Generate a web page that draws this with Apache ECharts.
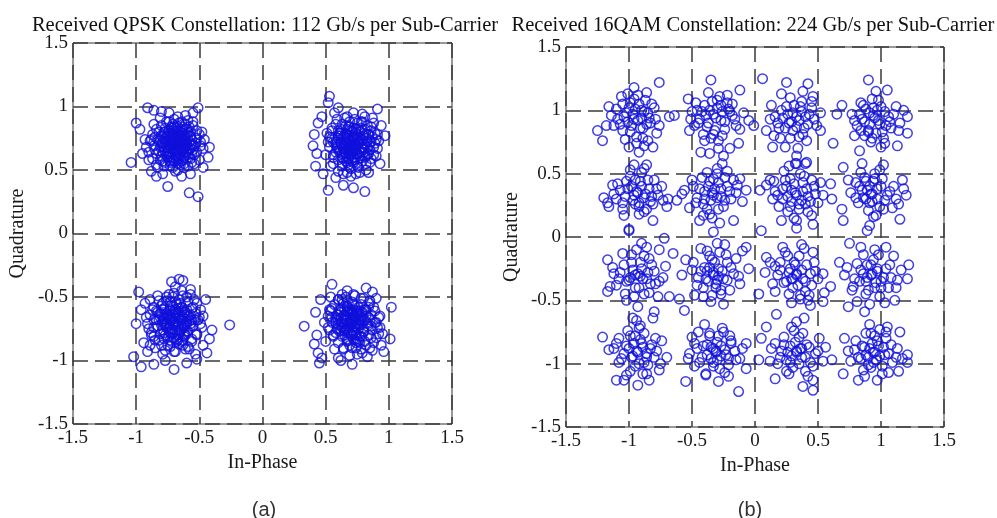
<!DOCTYPE html>
<html>
<head>
<meta charset="utf-8">
<script src="https://cdn.jsdelivr.net/npm/echarts@6/dist/echarts.min.js"></script>
<style>
  html, body { margin: 0; padding: 0; background: #fff; }
  #chart { width: 997px; height: 518px; }
</style>
</head>
<body>
<div id="chart"></div>
<script>
// --- tick values shared by both panels ---
const tickMin = -1.5
const tickMax = 1.5
const tickStep = 0.5

// --- (a) QPSK received symbols, one set of arrays per quadrant (spread, core, inner core) ---
const qpskTopLeft = [
  [-1.04, 0.56], [-1.00, 0.87], [-0.97, 0.82], [-0.91, 0.99], [-0.86, 0.97], [-0.51, 0.99], [-0.55, 0.95], [-0.58, 0.32],
  [-0.51, 0.29], [-0.75, 0.37], [-0.84, 0.45], [-0.42, 0.68], [-0.43, 0.60], [-0.95, 0.63], [-0.93, 0.74], [-0.47, 0.52],
  [-0.80, 0.96], [-0.68, 0.71], [-0.72, 0.76], [-0.63, 0.66], [-0.75, 0.64], [-0.60, 0.78], [-0.70, 0.84], [-0.79, 0.72],
  [-0.57, 0.70], [-0.66, 0.59], [-0.82, 0.80], [-0.54, 0.62], [-0.64, 0.88], [-0.77, 0.56], [-0.73, 0.69], [-0.61, 0.73],
  [-0.69, 0.63], [-0.85, 0.66], [-0.58, 0.84], [-0.74, 0.79], [-0.66, 0.77], [-0.71, 0.58], [-0.62, 0.52], [-0.80, 0.61],
  [-0.88, 0.74], [-0.52, 0.75], [-0.67, 0.92], [-0.76, 0.88], [-0.56, 0.56], [-0.83, 0.52], [-0.65, 0.67], [-0.70, 0.74],
  [-0.78, 0.68], [-0.59, 0.64], [-0.73, 0.53], [-0.63, 0.81], [-0.86, 0.86], [-0.49, 0.69], [-0.69, 0.49], [-0.90, 0.58],
  [-0.55, 0.88], [-0.81, 0.91], [-0.61, 0.93], [-0.74, 0.95], [-0.48, 0.80], [-0.88, 0.49], [-0.64, 0.45], [-0.79, 0.47],
  [-0.57, 0.47], [-0.92, 0.68], [-0.46, 0.74], [-0.67, 0.55], [-0.60, 0.69], [-0.77, 0.74], [-0.71, 0.81], [-0.65, 0.72],
  [-0.68, 0.66], [-0.74, 0.61], [-0.62, 0.60], [-0.72, 0.71], [-0.64, 0.76]
]
const qpskTopLeftCore = [
  [-0.74, 0.88], [-0.66, 0.87], [-0.59, 0.89], [-0.70, 0.90], [-0.80, 0.85], [-0.71, 0.86], [-0.63, 0.84], [-0.55, 0.85],
  [-0.77, 0.83], [-0.84, 0.82], [-0.74, 0.81], [-0.68, 0.83], [-0.60, 0.82], [-0.52, 0.81], [-0.65, 0.80], [-0.87, 0.78],
  [-0.80, 0.77], [-0.72, 0.79], [-0.66, 0.78], [-0.57, 0.77], [-0.50, 0.78], [-0.62, 0.76], [-0.76, 0.76], [-0.89, 0.73],
  [-0.83, 0.74], [-0.75, 0.73], [-0.69, 0.75], [-0.63, 0.73], [-0.56, 0.74], [-0.49, 0.72], [-0.60, 0.71], [-0.79, 0.71],
  [-0.86, 0.69], [-0.81, 0.68], [-0.74, 0.70], [-0.67, 0.69], [-0.62, 0.68], [-0.54, 0.69], [-0.47, 0.67], [-0.70, 0.67],
  [-0.58, 0.66], [-0.90, 0.64], [-0.84, 0.63], [-0.77, 0.65], [-0.71, 0.64], [-0.65, 0.63], [-0.59, 0.62], [-0.52, 0.64],
  [-0.68, 0.61], [-0.87, 0.59], [-0.81, 0.58], [-0.75, 0.60], [-0.70, 0.57], [-0.63, 0.58], [-0.57, 0.59], [-0.50, 0.58],
  [-0.73, 0.56], [-0.84, 0.54], [-0.78, 0.53], [-0.71, 0.52], [-0.65, 0.54], [-0.59, 0.53], [-0.54, 0.55], [-0.67, 0.50],
  [-0.69, 0.72], [-0.73, 0.74], [-0.64, 0.70], [-0.71, 0.77], [-0.66, 0.65], [-0.76, 0.68], [-0.61, 0.75], [-0.69, 0.80],
  [-0.74, 0.63], [-0.63, 0.67], [-0.78, 0.80], [-0.57, 0.80], [-0.82, 0.65], [-0.55, 0.66], [-0.67, 0.59], [-0.72, 0.84],
  [-0.61, 0.86], [-0.85, 0.76], [-0.53, 0.71], [-0.79, 0.57], [-0.62, 0.55]
]
const qpskTopLeftInner = [
  [-0.72, 0.83], [-0.67, 0.84], [-0.63, 0.82], [-0.77, 0.80], [-0.73, 0.79], [-0.68, 0.81], [-0.64, 0.79], [-0.59, 0.80],
  [-0.79, 0.76], [-0.75, 0.77], [-0.70, 0.76], [-0.66, 0.75], [-0.61, 0.77], [-0.57, 0.76], [-0.81, 0.73], [-0.77, 0.72],
  [-0.72, 0.73], [-0.67, 0.72], [-0.63, 0.71], [-0.58, 0.72], [-0.55, 0.70], [-0.80, 0.69], [-0.75, 0.68], [-0.71, 0.69],
  [-0.66, 0.68], [-0.61, 0.69], [-0.57, 0.67], [-0.79, 0.64], [-0.74, 0.65], [-0.69, 0.64], [-0.64, 0.65], [-0.60, 0.64],
  [-0.56, 0.63], [-0.76, 0.61], [-0.72, 0.60], [-0.67, 0.61], [-0.62, 0.61], [-0.58, 0.60], [-0.73, 0.57], [-0.68, 0.58],
  [-0.64, 0.57], [-0.70, 0.71], [-0.65, 0.74], [-0.74, 0.70], [-0.69, 0.66], [-0.62, 0.67]
]
const qpskTopRight = [
  [0.53, 1.08], [0.52, 1.03], [0.91, 0.98], [0.40, 0.69], [0.42, 0.53], [0.52, 0.34], [0.81, 0.33], [0.72, 0.36],
  [0.97, 0.77], [0.94, 0.85], [0.41, 0.78], [0.44, 0.87], [0.47, 0.92], [0.60, 0.99], [0.43, 0.63], [0.48, 0.47],
  [0.64, 0.38], [0.93, 0.55], [0.70, 0.70], [0.75, 0.76], [0.65, 0.64], [0.62, 0.77], [0.80, 0.66], [0.68, 0.84],
  [0.58, 0.70], [0.84, 0.78], [0.73, 0.58], [0.63, 0.55], [0.78, 0.88], [0.56, 0.60], [0.88, 0.68], [0.67, 0.92],
  [0.55, 0.83], [0.82, 0.55], [0.71, 0.63], [0.76, 0.71], [0.66, 0.73], [0.61, 0.66], [0.74, 0.82], [0.69, 0.52],
  [0.86, 0.84], [0.59, 0.90], [0.90, 0.61], [0.52, 0.72], [0.79, 0.94], [0.64, 0.47], [0.77, 0.48], [0.54, 0.53],
  [0.87, 0.91], [0.92, 0.73], [0.50, 0.62], [0.57, 0.95], [0.72, 0.95], [0.83, 0.62], [0.60, 0.81], [0.68, 0.60],
  [0.74, 0.66], [0.66, 0.79], [0.79, 0.74], [0.71, 0.76], [0.62, 0.71], [0.70, 0.45], [0.84, 0.48], [0.89, 0.79],
  [0.51, 0.79], [0.58, 0.44], [0.81, 0.82], [0.75, 0.53], [0.69, 0.67], [0.73, 0.73], [0.65, 0.68], [0.77, 0.61],
  [0.63, 0.86], [0.86, 0.72]
]
const qpskTopRightCore = [
  [0.65, 0.91], [0.73, 0.90], [0.81, 0.92], [0.69, 0.88], [0.58, 0.86], [0.66, 0.85], [0.75, 0.87], [0.83, 0.85],
  [0.88, 0.87], [0.55, 0.81], [0.62, 0.82], [0.70, 0.81], [0.78, 0.83], [0.86, 0.81], [0.74, 0.79], [0.53, 0.76],
  [0.60, 0.77], [0.67, 0.78], [0.72, 0.76], [0.80, 0.77], [0.87, 0.76], [0.91, 0.78], [0.64, 0.74], [0.56, 0.72],
  [0.62, 0.71], [0.69, 0.73], [0.77, 0.72], [0.83, 0.73], [0.89, 0.71], [0.74, 0.70], [0.53, 0.68], [0.59, 0.67],
  [0.66, 0.66], [0.72, 0.68], [0.79, 0.67], [0.85, 0.66], [0.91, 0.67], [0.63, 0.63], [0.56, 0.62], [0.69, 0.62],
  [0.75, 0.63], [0.82, 0.61], [0.88, 0.62], [0.60, 0.58], [0.66, 0.57], [0.72, 0.56], [0.79, 0.57], [0.85, 0.56],
  [0.56, 0.55], [0.63, 0.53], [0.70, 0.51], [0.76, 0.52], [0.82, 0.50], [0.67, 0.48], [0.74, 0.47], [0.60, 0.49],
  [0.71, 0.69], [0.68, 0.71], [0.75, 0.74], [0.64, 0.69], [0.78, 0.64], [0.70, 0.65], [0.66, 0.76], [0.81, 0.70],
  [0.73, 0.60], [0.61, 0.79], [0.77, 0.80], [0.69, 0.84], [0.84, 0.78], [0.58, 0.64], [0.86, 0.59], [0.64, 0.59],
  [0.79, 0.88], [0.55, 0.75], [0.90, 0.74], [0.68, 0.54]
]
const qpskTopRightInner = [
  [0.67, 0.82], [0.72, 0.83], [0.76, 0.82], [0.62, 0.79], [0.66, 0.78], [0.71, 0.80], [0.75, 0.78], [0.80, 0.79],
  [0.60, 0.75], [0.64, 0.76], [0.68, 0.75], [0.73, 0.76], [0.77, 0.74], [0.82, 0.75], [0.58, 0.72], [0.62, 0.71],
  [0.67, 0.72], [0.71, 0.71], [0.76, 0.72], [0.80, 0.71], [0.85, 0.72], [0.59, 0.68], [0.64, 0.67], [0.69, 0.68],
  [0.73, 0.67], [0.78, 0.68], [0.83, 0.68], [0.61, 0.64], [0.66, 0.63], [0.71, 0.64], [0.75, 0.63], [0.80, 0.64],
  [0.84, 0.63], [0.63, 0.60], [0.68, 0.59], [0.72, 0.60], [0.77, 0.59], [0.81, 0.60], [0.67, 0.56], [0.71, 0.57],
  [0.75, 0.56], [0.70, 0.70], [0.74, 0.69], [0.66, 0.70], [0.72, 0.74], [0.69, 0.65]
]
const qpskBottomLeft = [
  [-0.98, -0.46], [-0.26, -0.72], [-1.02, -0.97], [-0.96, -1.05], [-0.70, -1.07], [-0.52, -0.99], [-0.44, -0.94], [-0.40, -0.76],
  [-0.66, -0.36], [-0.72, -0.38], [-0.86, -1.03], [-0.63, -0.37], [-0.96, -0.60], [-1.00, -0.71], [-0.93, -0.55], [-0.45, -0.52],
  [-0.77, -1.00], [-0.60, -1.02], [-0.42, -0.83], [-0.70, -0.70], [-0.75, -0.64], [-0.65, -0.76], [-0.78, -0.78], [-0.62, -0.62],
  [-0.84, -0.68], [-0.57, -0.71], [-0.72, -0.85], [-0.68, -0.55], [-0.88, -0.80], [-0.55, -0.58], [-0.80, -0.57], [-0.63, -0.88],
  [-0.92, -0.66], [-0.52, -0.80], [-0.74, -0.48], [-0.60, -0.50], [-0.85, -0.90], [-0.69, -0.93], [-0.50, -0.66], [-0.90, -0.75],
  [-0.77, -0.72], [-0.66, -0.66], [-0.73, -0.60], [-0.61, -0.80], [-0.82, -0.84], [-0.58, -0.91], [-0.87, -0.60], [-0.64, -0.45],
  [-0.48, -0.74], [-0.79, -0.95], [-0.94, -0.86], [-0.56, -0.85], [-0.71, -0.78], [-0.76, -0.53], [-0.83, -0.49], [-0.67, -0.84],
  [-0.91, -0.93], [-0.54, -0.52], [-0.47, -0.88], [-0.81, -0.63], [-0.69, -0.62], [-0.62, -0.72], [-0.74, -0.75], [-0.78, -0.67],
  [-0.66, -0.59], [-0.72, -0.68], [-0.59, -0.65], [-0.86, -0.74], [-0.75, -0.88], [-0.53, -0.95], [-0.69, -0.42], [-0.89, -0.52],
  [-0.57, -0.44]
]
const qpskBottomLeftCore = [
  [-0.70, -0.47], [-0.63, -0.49], [-0.76, -0.50], [-0.57, -0.48], [-0.82, -0.53], [-0.73, -0.54], [-0.66, -0.52], [-0.59, -0.54],
  [-0.52, -0.55], [-0.86, -0.58], [-0.78, -0.59], [-0.71, -0.57], [-0.64, -0.58], [-0.56, -0.59], [-0.49, -0.60], [-0.89, -0.64],
  [-0.83, -0.62], [-0.76, -0.63], [-0.68, -0.64], [-0.61, -0.62], [-0.53, -0.63], [-0.47, -0.65], [-0.86, -0.68], [-0.79, -0.69],
  [-0.73, -0.67], [-0.65, -0.68], [-0.58, -0.69], [-0.51, -0.68], [-0.91, -0.71], [-0.83, -0.73], [-0.76, -0.74], [-0.69, -0.72],
  [-0.62, -0.74], [-0.55, -0.73], [-0.49, -0.71], [-0.88, -0.78], [-0.81, -0.79], [-0.73, -0.78], [-0.66, -0.79], [-0.59, -0.77],
  [-0.52, -0.79], [-0.85, -0.84], [-0.78, -0.83], [-0.70, -0.82], [-0.63, -0.84], [-0.56, -0.83], [-0.89, -0.88], [-0.80, -0.88],
  [-0.73, -0.89], [-0.66, -0.87], [-0.59, -0.89], [-0.70, -0.93], [-0.77, -0.92], [-0.70, -0.69], [-0.67, -0.73], [-0.74, -0.66],
  [-0.63, -0.66], [-0.72, -0.76], [-0.78, -0.71], [-0.60, -0.71], [-0.69, -0.60], [-0.75, -0.81], [-0.65, -0.55], [-0.81, -0.66],
  [-0.57, -0.64], [-0.68, -0.85], [-0.84, -0.61], [-0.62, -0.79], [-0.54, -0.68], [-0.79, -0.55], [-0.71, -0.50], [-0.86, -0.81],
  [-0.61, -0.91]
]
const qpskBottomLeftInner = [
  [-0.73, -0.57], [-0.68, -0.56], [-0.64, -0.58], [-0.78, -0.60], [-0.73, -0.61], [-0.69, -0.60], [-0.64, -0.61], [-0.60, -0.60],
  [-0.80, -0.64], [-0.76, -0.65], [-0.71, -0.64], [-0.67, -0.65], [-0.62, -0.64], [-0.58, -0.65], [-0.82, -0.68], [-0.78, -0.67],
  [-0.73, -0.68], [-0.69, -0.67], [-0.64, -0.68], [-0.60, -0.69], [-0.56, -0.68], [-0.80, -0.72], [-0.76, -0.71], [-0.71, -0.72],
  [-0.66, -0.71], [-0.62, -0.72], [-0.57, -0.73], [-0.79, -0.76], [-0.74, -0.75], [-0.69, -0.76], [-0.64, -0.75], [-0.60, -0.77],
  [-0.77, -0.80], [-0.72, -0.79], [-0.67, -0.80], [-0.62, -0.81], [-0.73, -0.84], [-0.68, -0.83], [-0.64, -0.85], [-0.70, -0.70],
  [-0.67, -0.62], [-0.74, -0.73], [-0.65, -0.77], [-0.72, -0.66]
]
const qpskBottomRight = [
  [0.33, -0.73], [0.55, -0.40], [1.02, -0.58], [1.01, -0.83], [0.71, -1.03], [0.45, -1.02], [0.82, -0.43], [0.41, -0.87],
  [0.44, -0.94], [0.42, -0.62], [0.46, -0.52], [0.87, -0.46], [0.94, -0.88], [0.47, -0.98], [0.62, -1.00], [0.90, -0.51],
  [0.43, -0.80], [0.70, -0.69], [0.75, -0.63], [0.65, -0.75], [0.62, -0.62], [0.80, -0.77], [0.68, -0.55], [0.58, -0.70],
  [0.84, -0.66], [0.73, -0.84], [0.56, -0.81], [0.88, -0.58], [0.64, -0.90], [0.78, -0.51], [0.53, -0.60], [0.91, -0.74],
  [0.60, -0.52], [0.82, -0.88], [0.71, -0.62], [0.76, -0.72], [0.66, -0.68], [0.61, -0.77], [0.74, -0.78], [0.86, -0.82],
  [0.52, -0.74], [0.69, -0.96], [0.57, -0.91], [0.93, -0.65], [0.79, -0.94], [0.63, -0.48], [0.72, -0.48], [0.50, -0.85],
  [0.85, -0.53], [0.95, -0.79], [0.67, -0.83], [0.59, -0.64], [0.81, -0.60], [0.73, -0.57], [0.55, -0.66], [0.77, -0.86],
  [0.89, -0.70], [0.49, -0.70], [0.60, -0.98], [0.83, -0.97], [0.65, -0.60], [0.72, -0.73], [0.68, -0.78], [0.78, -0.68],
  [0.63, -0.70], [0.74, -0.90], [0.54, -0.50], [0.96, -0.93], [0.67, -0.45], [0.87, -0.92]
]
const qpskBottomRightCore = [
  [0.66, -0.50], [0.73, -0.49], [0.80, -0.51], [0.60, -0.52], [0.57, -0.56], [0.64, -0.55], [0.71, -0.54], [0.78, -0.56],
  [0.85, -0.55], [0.54, -0.61], [0.61, -0.60], [0.68, -0.59], [0.75, -0.61], [0.82, -0.60], [0.89, -0.61], [0.52, -0.65],
  [0.58, -0.66], [0.65, -0.64], [0.72, -0.65], [0.79, -0.66], [0.86, -0.64], [0.92, -0.66], [0.55, -0.70], [0.62, -0.71],
  [0.69, -0.70], [0.76, -0.69], [0.83, -0.71], [0.90, -0.70], [0.53, -0.76], [0.59, -0.75], [0.66, -0.76], [0.73, -0.74],
  [0.80, -0.75], [0.87, -0.76], [0.93, -0.74], [0.56, -0.80], [0.63, -0.81], [0.70, -0.80], [0.77, -0.81], [0.84, -0.80],
  [0.90, -0.82], [0.60, -0.86], [0.67, -0.85], [0.74, -0.86], [0.81, -0.85], [0.88, -0.86], [0.64, -0.91], [0.71, -0.90],
  [0.78, -0.91], [0.85, -0.90], [0.75, -0.95], [0.71, -0.68], [0.68, -0.73], [0.74, -0.66], [0.65, -0.68], [0.77, -0.72],
  [0.70, -0.62], [0.63, -0.74], [0.81, -0.68], [0.72, -0.78], [0.67, -0.58], [0.79, -0.62], [0.60, -0.68], [0.75, -0.83],
  [0.86, -0.73], [0.58, -0.78], [0.84, -0.58], [0.69, -0.88], [0.92, -0.79], [0.55, -0.59], [0.63, -0.52]
]
const qpskBottomRightInner = [
  [0.67, -0.57], [0.72, -0.56], [0.76, -0.58], [0.62, -0.60], [0.67, -0.61], [0.71, -0.60], [0.76, -0.61], [0.80, -0.60],
  [0.60, -0.64], [0.64, -0.65], [0.69, -0.64], [0.73, -0.65], [0.78, -0.64], [0.82, -0.65], [0.58, -0.68], [0.62, -0.67],
  [0.67, -0.68], [0.71, -0.67], [0.76, -0.68], [0.80, -0.69], [0.85, -0.68], [0.60, -0.72], [0.64, -0.71], [0.69, -0.72],
  [0.74, -0.71], [0.78, -0.72], [0.83, -0.73], [0.62, -0.76], [0.67, -0.75], [0.71, -0.76], [0.76, -0.75], [0.80, -0.77],
  [0.65, -0.80], [0.70, -0.79], [0.74, -0.80], [0.78, -0.81], [0.68, -0.84], [0.72, -0.83], [0.76, -0.85], [0.71, -0.70],
  [0.68, -0.62], [0.74, -0.73], [0.65, -0.77], [0.73, -0.66]
]

// --- (b) 16QAM received symbols, one array per row of the grid (top to bottom) ---
const qamRow1 = [
  [-1.25, 0.84], [-1.21, 0.76], [-1.06, 1.11], [-0.96, 1.18], [-0.76, 1.22], [-0.86, 1.14], [-0.68, 0.95], [-0.64, 0.96],
  [-1.00, 0.71], [-0.81, 0.71], [-0.78, 0.82], [-1.16, 1.03], [-1.09, 0.93], [-1.02, 0.98], [-0.95, 1.01], [-0.90, 0.94],
  [-0.98, 0.88], [-0.92, 1.05], [-0.85, 0.98], [-1.05, 0.84], [-0.89, 0.86], [-0.99, 1.06], [-0.83, 0.90], [-1.12, 0.88],
  [-0.94, 0.79], [-0.87, 1.08], [-1.03, 0.77], [-0.80, 1.02], [-0.92, 0.67], [-0.85, 0.76], [-1.14, 0.96], [-0.96, 0.93],
  [-0.76, 0.88], [-0.90, 1.00], [-1.01, 0.91], [-0.88, 0.72],
  [-0.35, 1.24], [-0.12, 1.16], [-0.53, 1.09], [-0.05, 0.92], [-0.01, 0.88], [-0.43, 0.67], [-0.36, 0.66], [-0.20, 0.70],
  [-0.13, 0.74], [-0.52, 0.84], [-0.50, 0.99], [-0.28, 1.11], [-0.22, 1.06], [-0.40, 1.04], [-0.33, 0.97], [-0.27, 0.92],
  [-0.37, 0.90], [-0.30, 1.02], [-0.44, 0.93], [-0.24, 0.85], [-0.32, 0.84], [-0.18, 0.96], [-0.41, 0.81], [-0.26, 0.99],
  [-0.35, 0.78], [-0.46, 1.00], [-0.15, 0.88], [-0.29, 0.76], [-0.39, 0.96], [-0.21, 1.01], [-0.48, 0.88], [-0.34, 1.07],
  [-0.09, 0.98], [-0.25, 0.64],
  [0.06, 1.25], [0.25, 1.22], [0.42, 1.21], [0.21, 1.13], [0.13, 1.04], [0.46, 1.11], [0.52, 0.84], [0.62, 0.74],
  [0.33, 0.64], [0.40, 0.58], [0.32, 0.58], [0.14, 0.71], [0.09, 0.84], [0.30, 0.98], [0.36, 1.03], [0.27, 0.90],
  [0.40, 0.95], [0.33, 0.87], [0.22, 0.94], [0.45, 1.02], [0.19, 0.86], [0.38, 0.81], [0.28, 0.78], [0.42, 0.89],
  [0.25, 1.03], [0.35, 0.92], [0.16, 0.95], [0.47, 0.93], [0.24, 0.71], [0.30, 0.84], [0.37, 1.07], [0.20, 0.78],
  [0.90, 1.24], [1.05, 1.16], [0.69, 1.04], [0.65, 0.97], [1.21, 0.95], [1.21, 0.82], [1.13, 0.72], [0.83, 0.68],
  [1.00, 0.71], [0.94, 0.96], [0.88, 1.01], [1.00, 1.03], [0.91, 0.89], [0.98, 0.92], [0.85, 0.93], [1.06, 0.95],
  [0.93, 1.09], [0.81, 0.88], [1.08, 0.86], [0.96, 0.82], [0.87, 0.80], [1.02, 0.78], [0.77, 0.97], [0.92, 0.75],
  [1.12, 1.03], [0.97, 1.00], [0.84, 1.06], [1.15, 0.90], [0.90, 0.84], [0.79, 0.80], [1.04, 0.88]
]
const qamRow1Core = [
  [-0.97, 0.97], [-0.93, 0.92], [-1.00, 1.02], [-0.88, 0.99], [-1.04, 0.95], [-0.91, 0.86], [-0.96, 1.09], [-0.84, 0.94],
  [-1.07, 0.89], [-0.99, 0.83], [-0.93, 1.12], [-0.82, 1.05], [-1.10, 1.01], [-0.89, 0.78], [-1.01, 1.13], [-0.79, 0.93],
  [-1.18, 0.88], [-0.94, 0.74], [-0.86, 0.89], [-1.05, 1.05],
  [-0.31, 0.94], [-0.36, 1.00], [-0.27, 1.04], [-0.38, 0.87], [-0.24, 0.91], [-0.42, 0.99], [-0.30, 1.08], [-0.33, 0.81],
  [-0.20, 0.99], [-0.45, 0.90], [-0.26, 0.80], [-0.37, 1.14], [-0.16, 0.93], [-0.47, 1.06], [-0.22, 1.12], [-0.40, 0.76],
  [-0.12, 0.85], [-0.51, 0.93], [-0.29, 0.70], [-0.18, 1.05],
  [0.33, 0.95], [0.29, 0.91], [0.37, 0.99], [0.26, 0.97], [0.39, 0.86], [0.31, 1.04], [0.43, 0.97], [0.24, 0.86],
  [0.35, 0.79], [0.18, 0.90], [0.45, 1.07], [0.28, 1.10], [0.41, 0.76], [0.15, 0.80], [0.49, 0.88], [0.21, 1.00],
  [0.38, 1.15], [0.12, 0.93], [0.34, 0.70], [0.52, 0.98],
  [0.95, 0.94], [0.91, 0.98], [0.99, 0.89], [0.87, 0.91], [1.03, 0.99], [0.94, 1.02], [0.90, 0.83], [1.07, 0.91],
  [0.83, 0.97], [0.98, 1.08], [1.01, 0.83], [0.86, 1.04], [1.10, 0.97], [0.93, 0.78], [0.79, 0.92], [1.14, 0.84],
  [0.96, 1.15], [0.84, 0.84], [1.18, 1.00], [1.03, 0.74]
]
const qamRow2 = [
  [-1.00, 0.05], [-0.96, 0.57], [-0.86, 0.57], [-1.16, 0.24], [-0.70, 0.24], [-0.69, 0.30], [-0.81, 0.13], [-1.13, 0.41],
  [-1.17, 0.27], [-0.93, 0.35], [-0.98, 0.40], [-0.88, 0.31], [-1.03, 0.32], [-0.91, 0.44], [-0.84, 0.38], [-0.95, 0.26],
  [-1.07, 0.37], [-0.80, 0.45], [-0.99, 0.48], [-0.86, 0.22], [-1.05, 0.22], [-0.92, 0.18], [-0.77, 0.33], [-1.10, 0.30],
  [-0.90, 0.51], [-0.96, 0.33], [-1.02, 0.44], [-0.74, 0.40], [-0.83, 0.28], [-0.92, 0.27],
  [-0.62, 0.29], [-0.56, 0.37], [-0.12, 0.46], [-0.17, 0.45], [-0.07, 0.37], [-0.33, 0.04], [-0.28, 0.11], [-0.17, 0.13],
  [-0.44, 0.13], [-0.36, 0.44], [-0.32, 0.38], [-0.40, 0.36], [-0.27, 0.32], [-0.35, 0.29], [-0.22, 0.40], [-0.42, 0.47],
  [-0.30, 0.50], [-0.46, 0.31], [-0.25, 0.24], [-0.38, 0.22], [-0.19, 0.30], [-0.49, 0.40], [-0.33, 0.33], [-0.29, 0.43],
  [-0.41, 0.26], [-0.24, 0.47], [-0.52, 0.23], [-0.15, 0.35], [-0.36, 0.18], [-0.30, 0.54],
  [0.04, 0.37], [0.05, 0.05], [0.33, 0.58], [0.41, 0.59], [0.60, 0.42], [0.54, 0.33], [0.12, 0.45], [0.33, 0.07],
  [0.21, 0.13], [0.45, 0.17], [0.16, 0.36], [0.25, 0.40], [0.32, 0.35], [0.38, 0.43], [0.29, 0.28], [0.42, 0.32],
  [0.22, 0.30], [0.35, 0.22], [0.47, 0.40], [0.28, 0.46], [0.19, 0.24], [0.40, 0.26], [0.26, 0.20], [0.50, 0.27],
  [0.14, 0.30], [0.36, 0.50], [0.45, 0.45], [0.31, 0.15], [0.23, 0.52], [0.09, 0.41], [0.38, 0.36],
  [0.70, 0.55], [0.61, 0.30], [0.69, 0.22], [0.70, 0.13], [0.89, 0.05], [1.15, 0.14], [1.18, 0.38], [0.85, 0.58],
  [1.02, 0.57], [1.17, 0.45], [0.92, 0.34], [0.97, 0.38], [0.88, 0.30], [1.03, 0.29], [0.94, 0.44], [0.85, 0.37],
  [0.99, 0.24], [0.90, 0.21], [1.07, 0.36], [0.80, 0.43], [0.95, 0.50], [1.09, 0.23], [0.82, 0.27], [0.93, 0.28],
  [1.01, 0.46], [0.76, 0.35], [0.87, 0.47], [0.96, 0.17], [1.12, 0.30], [0.91, 0.40]
]
const qamRow2Core = [
  [-0.94, 0.36], [-0.90, 0.40], [-0.97, 0.29], [-0.87, 0.34], [-1.01, 0.38], [-0.92, 0.24], [-0.85, 0.45], [-1.05, 0.27],
  [-0.99, 0.53], [-0.82, 0.32], [-1.09, 0.42], [-0.88, 0.20], [-0.78, 0.38], [-1.12, 0.34], [-0.95, 0.45], [-0.81, 0.26],
  [-1.04, 0.17], [-0.88, 0.54], [-0.73, 0.29], [-1.20, 0.31],
  [-0.34, 0.35], [-0.30, 0.31], [-0.37, 0.40], [-0.27, 0.38], [-0.40, 0.30], [-0.33, 0.46], [-0.24, 0.29], [-0.44, 0.38],
  [-0.29, 0.22], [-0.38, 0.51], [-0.20, 0.36], [-0.47, 0.27], [-0.34, 0.15], [-0.22, 0.52], [-0.50, 0.45], [-0.14, 0.41],
  [-0.41, 0.17], [-0.26, 0.58], [-0.58, 0.34], [-0.10, 0.28],
  [0.33, 0.33], [0.29, 0.37], [0.37, 0.29], [0.26, 0.32], [0.41, 0.38], [0.31, 0.42], [0.35, 0.26], [0.22, 0.38],
  [0.44, 0.28], [0.28, 0.24], [0.39, 0.48], [0.18, 0.33], [0.48, 0.34], [0.24, 0.45], [0.42, 0.20], [0.33, 0.13],
  [0.15, 0.44], [0.52, 0.43], [0.27, 0.56], [0.46, 0.10],
  [0.93, 0.34], [0.89, 0.37], [0.97, 0.30], [0.86, 0.31], [1.00, 0.40], [0.91, 0.27], [0.95, 0.46], [0.83, 0.40],
  [1.05, 0.33], [0.88, 0.44], [1.02, 0.22], [0.80, 0.31], [1.10, 0.40], [0.94, 0.16], [0.84, 0.51], [1.14, 0.26],
  [0.99, 0.53], [0.74, 0.45], [0.91, 0.09], [1.20, 0.33]
]
const qamRow3 = [
  [-1.17, -0.18], [-1.17, -0.43], [-1.00, 0.06], [-0.72, -0.01], [-0.65, -0.13], [-0.68, -0.47], [-0.60, -0.49], [-0.56, -0.58],
  [-0.93, -0.55], [-0.77, -0.47], [-0.73, -0.32], [-0.95, -0.30], [-0.90, -0.25], [-1.02, -0.35], [-0.86, -0.33], [-0.98, -0.20],
  [-1.07, -0.28], [-0.92, -0.40], [-0.82, -0.22], [-1.05, -0.13], [-0.88, -0.15], [-1.10, -0.38], [-0.96, -0.47], [-0.79, -0.37],
  [-0.94, -0.10], [-1.13, -0.24], [-0.84, -0.44], [-0.99, -0.32], [-0.76, -0.10], [-0.91, -0.31], [-1.03, -0.45], [-0.86, -0.08],
  [-0.55, -0.18], [-0.07, -0.08], [-0.10, -0.11], [-0.05, -0.25], [-0.25, -0.53], [-0.48, -0.46], [-0.43, -0.09], [-0.12, -0.37],
  [-0.33, -0.30], [-0.29, -0.25], [-0.37, -0.35], [-0.25, -0.33], [-0.40, -0.24], [-0.31, -0.40], [-0.22, -0.20], [-0.36, -0.15],
  [-0.20, -0.42], [-0.45, -0.32], [-0.28, -0.12], [-0.34, -0.46], [-0.17, -0.29], [-0.41, -0.40], [-0.24, -0.06], [-0.38, -0.27],
  [-0.30, -0.34], [-0.15, -0.17], [-0.50, -0.26], [-0.27, -0.45], [-0.32, -0.20],
  [0.09, -0.16], [0.08, -0.28], [0.22, -0.08], [0.46, -0.12], [0.60, -0.39], [0.54, -0.51], [0.44, -0.54], [0.36, -0.49],
  [0.54, -0.29], [0.03, -0.45], [0.33, -0.30], [0.28, -0.25], [0.38, -0.33], [0.25, -0.35], [0.41, -0.22], [0.30, -0.40],
  [0.20, -0.20], [0.35, -0.15], [0.45, -0.38], [0.18, -0.30], [0.32, -0.22], [0.27, -0.45], [0.40, -0.43], [0.14, -0.37],
  [0.48, -0.27], [0.24, -0.12], [0.37, -0.06], [0.43, -0.46], [0.29, -0.33], [0.16, -0.23],
  [0.67, -0.20], [0.75, -0.05], [1.22, -0.22], [1.21, -0.33], [1.11, -0.50], [0.87, -0.59], [0.74, -0.55], [0.81, -0.51],
  [0.92, -0.30], [0.97, -0.25], [0.88, -0.35], [1.02, -0.32], [0.94, -0.18], [0.84, -0.26], [1.07, -0.22], [0.90, -0.42],
  [1.00, -0.40], [0.79, -0.33], [0.95, -0.10], [1.10, -0.15], [0.86, -0.14], [1.04, -0.08], [0.96, -0.36], [0.77, -0.42],
  [1.13, -0.34], [0.89, -0.22], [0.99, -0.47], [0.71, -0.30], [1.06, -0.40]
]
const qamRow3Core = [
  [-0.93, -0.29], [-0.89, -0.33], [-0.97, -0.26], [-0.85, -0.28], [-1.00, -0.34], [-0.91, -0.20], [-0.83, -0.37], [-1.04, -0.22],
  [-0.95, -0.40], [-0.80, -0.27], [-1.08, -0.33], [-0.88, -0.45], [-0.98, -0.14], [-0.76, -0.35], [-1.12, -0.29], [-0.84, -0.17],
  [-1.02, -0.50], [-0.71, -0.23], [-1.15, -0.39], [-0.90, -0.05],
  [-0.33, -0.28], [-0.29, -0.31], [-0.36, -0.24], [-0.26, -0.27], [-0.39, -0.33], [-0.31, -0.37], [-0.34, -0.18], [-0.22, -0.34],
  [-0.43, -0.27], [-0.27, -0.42], [-0.38, -0.11], [-0.19, -0.24], [-0.46, -0.38], [-0.35, -0.51], [-0.23, -0.14], [-0.49, -0.20],
  [-0.13, -0.31], [-0.41, -0.47], [-0.30, -0.05], [-0.58, -0.30],
  [0.33, -0.29], [0.30, -0.33], [0.37, -0.26], [0.27, -0.28], [0.40, -0.35], [0.34, -0.38], [0.31, -0.20], [0.23, -0.36],
  [0.44, -0.29], [0.36, -0.46], [0.26, -0.15], [0.47, -0.20], [0.20, -0.26], [0.42, -0.50], [0.29, -0.52], [0.50, -0.33],
  [0.16, -0.43], [0.39, -0.09], [0.12, -0.20], [0.55, -0.44],
  [0.93, -0.29], [0.89, -0.32], [0.97, -0.27], [0.86, -0.29], [1.00, -0.35], [0.92, -0.22], [0.95, -0.40], [0.83, -0.35],
  [1.04, -0.25], [0.88, -0.45], [1.08, -0.32], [0.81, -0.21], [0.98, -0.14], [0.78, -0.39], [1.12, -0.40], [0.91, -0.53],
  [1.16, -0.26], [0.84, -0.08], [1.03, -0.52], [0.73, -0.24]
]
const qamRow4 = [
  [-1.21, -0.79], [-1.16, -0.89], [-1.10, -1.13], [-0.93, -1.17], [-0.81, -0.64], [-0.80, -0.59], [-0.70, -0.95], [-0.76, -1.05],
  [-0.84, -1.13], [-1.04, -1.13], [-0.97, -0.64], [-0.94, -0.90], [-0.90, -0.84], [-0.98, -0.95], [-0.86, -0.92], [-1.02, -0.86],
  [-0.92, -1.00], [-0.88, -0.76], [-1.06, -0.96], [-0.95, -0.78], [-0.82, -0.85], [-1.08, -0.80], [-0.99, -1.06], [-0.78, -0.90],
  [-0.91, -0.70], [-1.12, -0.88], [-0.85, -1.01], [-0.96, -0.84], [-1.01, -0.74], [-0.74, -0.82], [-0.89, -1.08],
  [-0.55, -1.14], [-0.50, -0.79], [-0.45, -0.75], [-0.13, -1.22], [-0.07, -1.04], [-0.07, -0.84], [-0.29, -1.14], [-0.39, -1.08],
  [-0.31, -0.91], [-0.27, -0.86], [-0.35, -0.96], [-0.23, -0.93], [-0.38, -0.85], [-0.29, -0.78], [-0.19, -0.84], [-0.42, -0.95],
  [-0.33, -1.02], [-0.21, -1.01], [-0.26, -0.72], [-0.46, -0.88], [-0.16, -0.90], [-0.36, -0.76], [-0.30, -0.97], [-0.12, -0.96],
  [-0.48, -1.02], [-0.24, -1.07], [-0.40, -0.69], [-0.33, -0.88], [-0.20, -0.78], [-0.52, -0.92],
  [0.03, -0.97], [0.17, -0.61], [0.09, -0.71], [0.16, -1.12], [0.38, -1.18], [0.46, -1.21], [0.46, -1.13], [0.56, -0.87],
  [0.61, -0.97], [0.39, -0.64], [0.33, -0.67], [0.05, -0.80], [0.33, -0.91], [0.28, -0.86], [0.37, -0.95], [0.25, -0.97],
  [0.41, -0.85], [0.30, -1.03], [0.21, -0.90], [0.44, -0.99], [0.35, -0.79], [0.23, -0.79], [0.48, -0.92], [0.27, -1.08],
  [0.18, -1.00], [0.40, -1.06], [0.31, -0.74], [0.51, -0.80], [0.36, -0.88], [0.13, -0.88],
  [0.71, -0.80], [0.70, -1.08], [0.82, -1.13], [1.15, -0.75], [1.21, -0.99], [1.21, -0.93], [1.05, -0.71], [0.97, -1.13],
  [0.94, -0.91], [0.98, -0.86], [0.90, -0.95], [1.03, -0.93], [0.87, -0.87], [0.95, -0.78], [1.08, -0.85], [0.92, -1.03],
  [1.01, -1.02], [0.84, -0.96], [0.99, -0.73], [1.12, -0.95], [0.88, -0.76], [0.79, -0.89], [1.06, -1.07], [0.93, -0.84],
  [1.14, -1.06], [0.86, -1.05], [0.96, -0.97], [0.76, -0.98], [1.04, -0.80], [0.91, -0.69]
]
const qamRow4Core = [
  [-0.93, -0.91], [-0.89, -0.87], [-0.97, -0.94], [-0.86, -0.95], [-1.00, -0.88], [-0.91, -0.81], [-0.95, -1.02], [-0.83, -0.88],
  [-1.04, -0.92], [-0.88, -0.99], [-0.99, -0.78], [-0.80, -0.95], [-1.08, -0.99], [-0.92, -0.72], [-0.79, -0.80], [-1.10, -0.84],
  [-0.86, -1.08], [-1.02, -1.09], [-0.75, -1.00], [-0.94, -0.66],
  [-0.31, -0.90], [-0.27, -0.94], [-0.35, -0.87], [-0.24, -0.89], [-0.38, -0.93], [-0.30, -0.83], [-0.33, -0.99], [-0.21, -0.96],
  [-0.41, -0.86], [-0.28, -1.04], [-0.19, -0.82], [-0.44, -0.99], [-0.36, -0.78], [-0.15, -0.97], [-0.48, -0.84], [-0.25, -0.75],
  [-0.39, -1.09], [-0.10, -0.88], [-0.53, -0.96], [-0.21, -1.10],
  [0.33, -0.90], [0.29, -0.94], [0.37, -0.88], [0.26, -0.91], [0.40, -0.95], [0.32, -0.83], [0.35, -1.00], [0.23, -0.85],
  [0.43, -0.87], [0.28, -0.99], [0.46, -1.02], [0.20, -0.95], [0.38, -0.76], [0.25, -1.06], [0.50, -0.90], [0.16, -0.84],
  [0.42, -1.10], [0.29, -0.71], [0.54, -0.98], [0.12, -0.98],
  [0.95, -0.91], [0.91, -0.88], [0.99, -0.94], [0.88, -0.93], [1.02, -0.87], [0.94, -0.99], [0.97, -0.82], [0.85, -0.86],
  [1.06, -0.92], [0.90, -1.01], [1.09, -0.99], [0.82, -0.95], [1.01, -1.08], [0.92, -0.76], [1.13, -0.88], [0.80, -0.82],
  [0.87, -1.10], [1.17, -0.96], [1.04, -0.75], [0.74, -0.90]
]

const qpskPoints = qpskTopLeft.concat(qpskTopLeftCore, qpskTopLeftInner, qpskTopRight, qpskTopRightCore, qpskTopRightInner,
  qpskBottomLeft, qpskBottomLeftCore, qpskBottomLeftInner, qpskBottomRight, qpskBottomRightCore, qpskBottomRightInner)
const qamPoints = qamRow1.concat(qamRow1Core, qamRow2, qamRow2Core, qamRow3, qamRow3Core, qamRow4, qamRow4Core)

const serif = 'Liberation Serif, Times New Roman, serif'
const markerBlue = '#1010dc'

const chart = echarts.init(document.getElementById('chart'), null, {renderer: 'canvas'})

// 两个面板的坐标轴只差 gridIndex 和名称距离
const makeAxis = (gridIndex, name, isX, nameGap) => ({
  gridIndex: gridIndex,
  type: 'value',
  min: tickMin,
  max: tickMax,
  interval: tickStep,
  name: name,
  nameLocation: 'middle',
  nameGap: nameGap,
  nameRotate: isX ? 0 : 90,
  nameTextStyle: {fontFamily: serif, fontSize: 20, color: '#1a1a1a'},
  axisLine: {show: false, onZero: false},
  axisTick: {show: false},
  axisLabel: {fontFamily: serif, fontSize: 19, color: '#1a1a1a', margin: 5},
  splitLine: {show: true, lineStyle: {color: '#3a3a3a', width: 1.5, type: [15, 7]}}
})

const gridStyle = {show: true, borderColor: '#333', borderWidth: 1, backgroundColor: '#fff'}
const markerStyle = {color: 'rgba(0,0,0,0)', borderColor: markerBlue, borderWidth: 1.5}

const option = {
  animation: false,
  backgroundColor: '#fff',
  title: [
    {
      text: 'Received QPSK Constellation: 112 Gb/s per Sub-Carrier',
      left: 260, top: 10, textAlign: 'center',
      textStyle: {fontFamily: serif, fontSize: 20.5, fontWeight: 'normal', color: '#111'}
    },
    {
      text: 'Received 16QAM Constellation: 224 Gb/s per Sub-Carrier',
      left: 748, top: 10, textAlign: 'center',
      textStyle: {fontFamily: serif, fontSize: 20.5, fontWeight: 'normal', color: '#111'}
    },
    {
      text: '(a)', left: 259, top: 495, textAlign: 'center',
      textStyle: {fontFamily: 'Liberation Sans, Arial, sans-serif', fontSize: 20, fontWeight: 'normal', color: '#333'}
    },
    {
      text: '(b)', left: 745, top: 495, textAlign: 'center',
      textStyle: {fontFamily: 'Liberation Sans, Arial, sans-serif', fontSize: 20, fontWeight: 'normal', color: '#333'}
    }
  ],
  grid: [
    Object.assign({left: 73, top: 43, width: 379, height: 381}, gridStyle),
    Object.assign({left: 566, top: 47, width: 378, height: 380}, gridStyle)
  ],
  xAxis: [
    makeAxis(0, 'In-Phase', true, 28),
    makeAxis(1, 'In-Phase', true, 27)
  ],
  yAxis: [
    makeAxis(0, 'Quadrature', false, 45),
    makeAxis(1, 'Quadrature', false, 44)
  ],
  series: [
    {
      name: 'QPSK',
      type: 'scatter',
      xAxisIndex: 0,
      yAxisIndex: 0,
      symbol: 'circle',
      symbolSize: 9.5,
      itemStyle: markerStyle,
      data: qpskPoints
    },
    {
      name: '16QAM',
      type: 'scatter',
      xAxisIndex: 1,
      yAxisIndex: 1,
      symbol: 'circle',
      symbolSize: 9.5,
      itemStyle: markerStyle,
      data: qamPoints
    }
  ]
}

chart.setOption(option)
</script>
</body>
</html>
